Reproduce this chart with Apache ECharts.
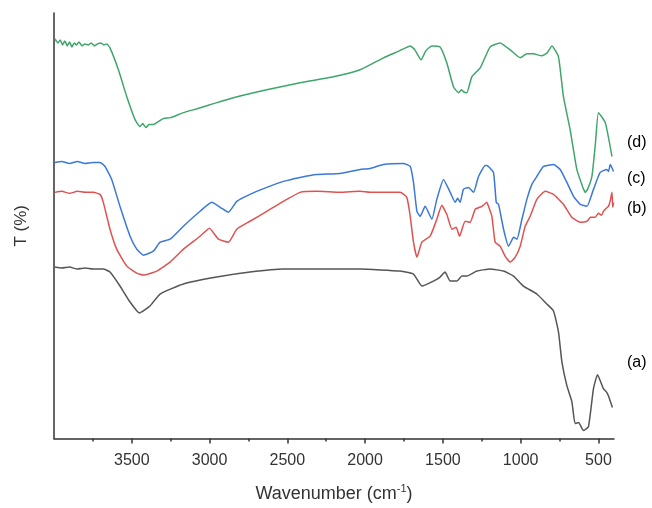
<!DOCTYPE html>
<html>
<head>
<meta charset="utf-8">
<script src="https://cdn.jsdelivr.net/npm/echarts@6/dist/echarts.min.js"></script>
<style>html,body{margin:0;padding:0;background:#fff;}#c{width:652px;height:508px;}</style>
</head>
<body>
<div id="c"></div>
<script>
// Wavenumber (cm-1) and offset transmittance (arbitrary units) for each spectrum
const dWave = [3994,3975,3960,3945,3930,3915,3900,3885,3870,3855,3840,3820,3800,3780,3760,3740,3720,3700,3680,3661,3640,3586,3532,3479,3447,3430,3408,3390,3361,3330,3297,3250,3168,3080,2997,2847,2632,2418,2204,2032,1882,1780,1710,1680,1640,1610,1571,1518,1475,1432,1400,1380,1368,1346,1314,1260,1196,1132,1067,1003,960,918,864,830,799,757,725,682,639,600,585,570,542,520,500,456,413];
const dVal  = [401,397,400,395,399,394,398,393,397,395,398,394,396,395,397,394,396,397,395,396,392,370,343,320,313,316,312,315,315,318,321,322,327,331,335,342,350,357,363,370,382,389,394,390,380,389,394,393,377,353,347,350,348,347,363,372,393,397,390,382,386,386,384,387,394,383,343,310,270,252,247,250,263,295,327,317,283];

const cWave = [3994,3950,3900,3850,3800,3750,3704,3672,3629,3576,3511,3468,3426,3361,3318,3254,3168,3061,2986,2932,2879,2825,2740,2632,2525,2418,2311,2161,2032,1968,1882,1754,1710,1689,1667,1646,1614,1571,1539,1496,1453,1421,1405,1389,1368,1336,1303,1271,1228,1218,1175,1157,1142,1110,1078,1060,1046,1024,992,960,928,896,853,789,746,703,660,617,574,532,489,446,435,424,403];
const cVal  = [277,278,276,278,276,277,277,273,260,233,203,190,184,188,197,200,213,228,237,232,227,238,245,252,258,262,265,266,270,271,275,276,273,257,228,223,233,220,240,260,247,237,241,237,250,252,247,263,274,274,267,237,235,210,193,198,202,200,220,240,255,263,273,275,270,257,243,235,233,250,267,270,268,275,268];

const bWave = [3994,3950,3900,3850,3800,3747,3704,3683,3640,3597,3532,3468,3426,3340,3254,3168,3061,3001,2943,2879,2825,2740,2632,2525,2418,2311,2161,2032,1968,1882,1775,1732,1710,1689,1667,1635,1582,1539,1507,1475,1442,1415,1393,1357,1325,1292,1249,1218,1207,1185,1164,1132,1100,1067,1035,1003,971,939,896,842,789,725,671,617,574,550,521,500,480,468,450,436,425,413,408,403];
const bVal  = [247,248,246,248,247,247,245,237,210,190,173,166,164,168,177,190,203,211,200,197,210,218,228,238,247,248,247,248,247,247,247,242,223,197,182,197,203,220,234,225,210,212,203,218,217,230,233,237,233,223,197,193,183,177,182,193,213,223,240,248,245,235,222,217,218,222,222,226,224,228,231,233,238,247,232,237];

const aWave = [3994,3950,3900,3850,3800,3750,3683,3640,3576,3511,3451,3383,3318,3168,2954,2740,2525,2311,2032,1775,1689,1635,1561,1518,1486,1453,1410,1378,1346,1282,1196,1110,1046,982,896,832,789,757,735,703,671,650,628,596,564,532,506,468,450,436,410];
const aVal  = [172,171,172,170,171,170,170,167,153,137,126,133,145,155,162,167,170,170,170,168,165,153,158,162,167,158,158,163,163,168,170,168,163,153,145,135,128,107,77,53,37,15,16,8,12,50,64,50,47,43,31];

// Tick labels on the wavenumber axis
const majorTicks = [3500,3000,2500,2000,1500,1000,500];
const minorTicks = [3750,3250,2750,2250,1750,1250,750];
const seriesNames = ['(a)','(b)','(c)','(d)'];

function pairs(w, v){ return w.map((x,i)=>[x, v[i]]); }

const chart = echarts.init(document.getElementById('c'), null, {renderer:'canvas'});
const axisCol = '#333';
const FF = 'Liberation Sans, Arial, sans-serif';
const lblFont = {fontFamily:FF, fontSize:16, color:'#333'};

chart.setOption({
  animation:false,
  backgroundColor:'#fff',
  grid:{left:54, right:38, top:13, bottom:68},
  xAxis:[{
    type:'value', inverse:true, min:400, max:4000,
    axisLine:{show:true, lineStyle:{color:axisCol, width:1.5}},
    axisTick:{show:true, inside:false, length:5, lineStyle:{color:axisCol, width:1.5}, customValues:majorTicks},
    axisLabel:Object.assign({margin:14, customValues:majorTicks, formatter:v=>String(v)}, lblFont),
    splitLine:{show:false},
    name:'Wavenumber (cm{sup|-1})', nameLocation:'middle', nameGap:45,
    nameTextStyle:{fontFamily:FF, fontSize:18, color:'#333',
      rich:{sup:{fontSize:11, color:'#333', padding:[0,0,10,0], fontFamily:FF}}}
  },{
    type:'value', inverse:true, min:400, max:4000, position:'bottom',
    axisLine:{show:false},
    axisTick:{show:true, length:3, lineStyle:{color:axisCol, width:1.5}, customValues:minorTicks},
    axisLabel:{show:false}, splitLine:{show:false}
  }],
  yAxis:{
    type:'value', min:0, max:427,
    axisLine:{show:true, lineStyle:{color:axisCol, width:1.5}},
    axisTick:{show:false}, axisLabel:{show:false}, splitLine:{show:false},
    name:'T (%)', nameLocation:'middle', nameGap:24, nameRotate:90,
    nameTextStyle:{fontFamily:FF, fontSize:17, color:'#333'}
  },
  series:[
    {name:seriesNames[0], type:'line', data:pairs(aWave,aVal), showSymbol:false, smooth:0.15, lineStyle:{color:'#555555', width:1.5}},
    {name:seriesNames[1], type:'line', data:pairs(bWave,bVal), showSymbol:false, smooth:0.15, lineStyle:{color:'#e05252', width:1.5}},
    {name:seriesNames[2], type:'line', data:pairs(cWave,cVal), showSymbol:false, smooth:0.15, lineStyle:{color:'#3b78d8', width:1.5}},
    {name:seriesNames[3], type:'line', data:pairs(dWave,dVal), showSymbol:false, smooth:0.15, lineStyle:{color:'#3fa66b', width:1.5}}
  ],
  graphic:[
    {type:'text', left:627, top:355, style:Object.assign({text:seriesNames[0]}, lblFont)},
    {type:'text', left:627, top:201, style:Object.assign({text:seriesNames[1]}, lblFont)},
    {type:'text', left:627, top:171, style:Object.assign({text:seriesNames[2]}, lblFont)},
    {type:'text', left:627, top:135, style:Object.assign({text:seriesNames[3]}, lblFont)}
  ]
});
</script>
</body>
</html>
